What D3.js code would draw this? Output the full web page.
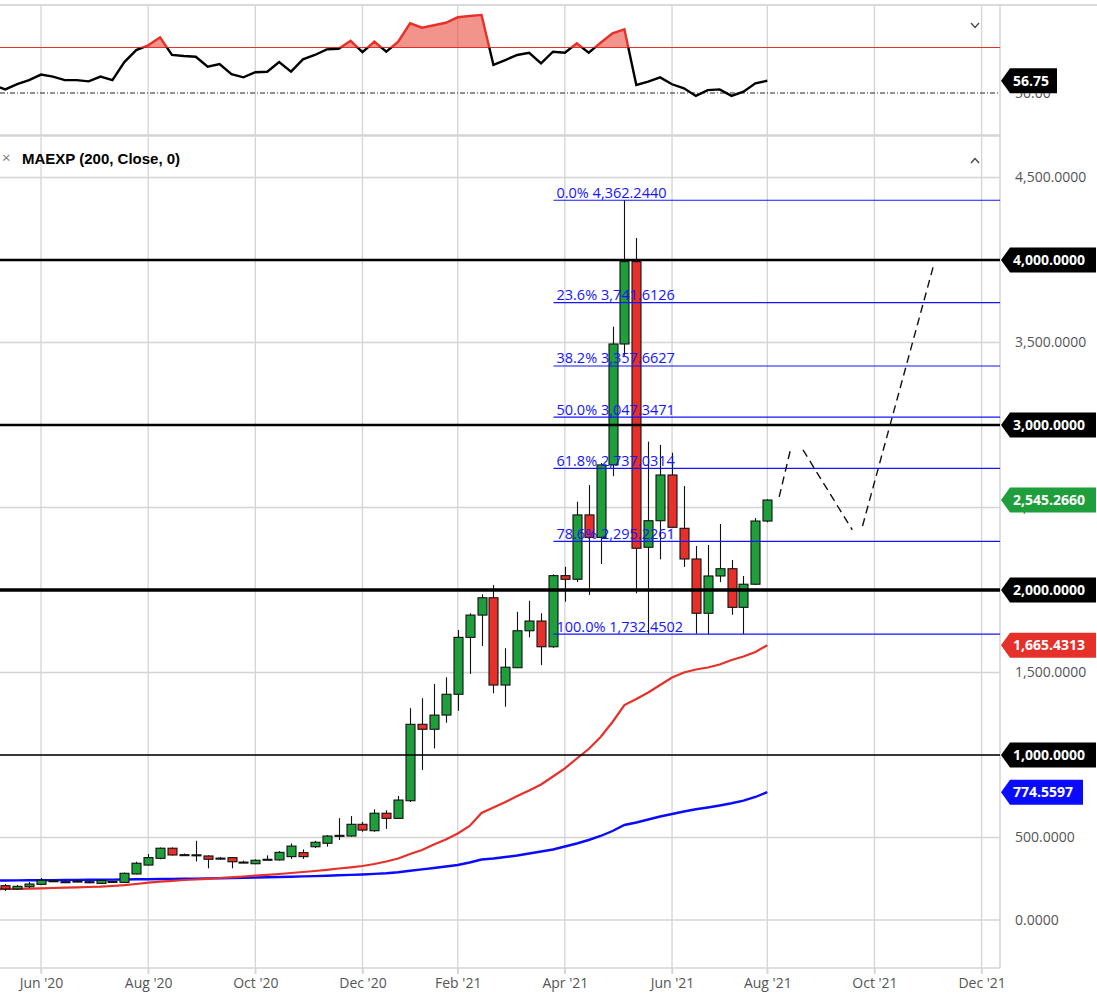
<!DOCTYPE html>
<html>
<head>
<meta charset="utf-8">
<script src="https://cdn.jsdelivr.net/npm/d3@7"></script>
<style>
  body { margin: 0; background: #fff; }
  svg { display: block; font-family: "Open Sans", sans-serif; }
</style>
</head>
<body>
<svg id="chart" width="1097" height="1005"></svg>
<script>

/* DATA */
// weekly candles, first bar week of 11 May 2020
const firstWeek = "2020-05-11";
const opens  = [208,188,202,216,235,232,233,232,222,234,228,279,333,374,435,392,395,388,372,378,349,341,366,364,384,408,444,465,509,509,580,541,647,616,723,1186,1156,1242,1368,1713,1848,1953,1424,1529,1753,1812,1656,2087,2065,2455,2319,2758,3491,3990,2259,2420,2697,2374,2188,1859,2085,2129,1895,2035,2418];
const highs  = [218,212,230,255,245,238,244,237,246,238,288,353,400,440,440,403,480,392,382,382,360,368,392,418,464,428,480,515,617,630,594,671,665,752,1284,1344,1430,1471,1758,1859,1974,2030,1647,1868,1935,1859,2095,2141,2535,2636,2770,3596,4362.244,4133,2899,2879,2832,2630,2267,2273,2400,2182,2085,2436,2550];
const lows   = [176,182,194,212,230,224,230,222,219,228,225,276,330,368,390,388,355,313,366,313,345,338,364,360,370,370,436,444,485,505,535,535,552,612,715,909,1040,1196,1268,1491,1661,1374,1293,1529,1713,1545,1650,1929,2048,1970,2158,2690,3420,1980,1735,2186,2380,2140,1735,1733,2048,1850,1732.45,2030,2410];
const closes = [188,204,218,241,238,229,236,228,240,232,283,344,378,435,394,396,393,368,375,353,351,362,368,410,448,384,471,509,513,580,545,647,616,727,1186,1156,1242,1368,1713,1848,1953,1424,1532,1753,1812,1656,2087,2065,2455,2319,2758,3491,3990,2253,2420,2697,2380,2188,1859,2085,2129,1895,2035,2418,2545.266];

// indicator lines begin one week earlier (left edge of the chart)
const lineStart = "2020-05-04";
const emaFast = [187.0,187.9,189.1,190.3,192.1,193.9,195.8,198.2,200.0,201.8,206.1,210.9,218.2,226.1,232.1,237.6,242.4,245.5,249.7,254.5,258.8,263.6,268.5,273.3,278.8,284.8,290.9,297.0,304.2,312.1,319.4,327.3,339.4,354.5,372.7,400.0,424.2,457.6,487.9,524.2,569.7,648.5,681.8,715.2,751.5,784.8,821.2,869.7,919.4,978.8,1036.4,1109.1,1200.0,1303.0,1339.4,1378.8,1424.2,1469.7,1500.0,1518.2,1530.3,1548.5,1575.8,1597.0,1624.2,1665.4313];
const emaSlow = [238.8,239.4,240.0,240.6,241.2,241.8,242.4,243.0,243.6,244.2,244.8,245.5,246.7,247.3,248.5,249.1,250.3,250.9,252.1,253.3,254.5,255.8,257.6,258.8,260.6,262.4,264.2,266.1,268.5,270.9,273.3,275.8,279.4,283.6,289.7,298.2,306.7,315.2,324.2,333.3,348.5,366.7,372.7,381.8,390.9,403.0,415.2,427.3,445.5,463.6,484.8,509.1,539.4,575.8,590.9,609.1,627.3,642.4,657.6,670.9,681.8,693.9,707.3,723.0,745.5,774.5597];
const oscValues = [54.4,52.0,54.9,57.1,60.1,59.0,57.1,57.1,56.4,59.0,57.1,67.0,73.6,76.2,80.6,70.9,70.3,69.9,64.5,65.9,60.4,58.6,61.4,61.7,67.0,61.7,68.5,70.9,74.0,74.3,78.7,72.4,78.2,72.7,78.2,88.3,85.9,87.2,88.6,91.6,92.3,92.9,65.4,68.1,70.9,72.1,66.3,72.7,72.1,77.3,72.1,77.6,82.8,85.0,54.4,56.2,58.6,54.8,52.6,48.4,51.6,52.0,48.4,50.7,55.3,56.75];
const oscUpper = 75;
const oscMid = 50;

const fibPcts = ["0.0%","23.6%","38.2%","50.0%","61.8%","78.6%","100.0%"];
const fibValues = [4362.2440,3741.6126,3357.6627,3047.3471,2737.0314,2295.2261,1732.4502];
const fibStart = "2021-03-29";

const levelValues = [4000,3000,2000,1000];
const priceTicks = [0,500,1000,1500,2000,2500,3000,3500,4000,4500];
const tickDates = ["2020-06-01","2020-08-03","2020-10-05","2020-12-07","2021-02-01","2021-04-05","2021-06-07","2021-08-02","2021-10-04","2021-12-06"];

// hand drawn projection, three dashed strokes
const projection = [
  [["2021-08-09",2564],["2021-08-16",2867]],
  [["2021-08-23",2849],["2021-09-21",2364]],
  [["2021-09-27",2388],["2021-11-08",3976]]
];

/* SETUP */
const parse = d3.timeParse("%Y-%m-%d");
const fmtNum = d3.format(",.4f");
const dates = d3.timeMonday.range(parse(firstWeek), d3.timeDay.offset(parse(firstWeek), 7 * opens.length));
const lineDates = d3.timeMonday.range(parse(lineStart), d3.timeDay.offset(parse(lineStart), 7 * oscValues.length));
const candles = dates.map((d, i) => ({date: d, o: opens[i], h: highs[i], l: lows[i], c: closes[i]}));

const plotRight = 1000;
const green = "#1f9e3c", red = "#e6302a", blue = "#0a0aff";

const x = d3.scaleTime()
  .domain([parse("2020-06-01"), parse("2021-12-06")])
  .range([41, 41 + 553 * 1.7009]);

const y = d3.scaleLinear().domain([0, 4000]).range([920, 260]);
const yOsc = d3.scaleLinear().domain([oscMid, oscUpper]).range([93, 47.5]);

const svg = d3.select("#chart");

/* CLIPS */
const defs = svg.append("defs");
defs.append("clipPath").attr("id", "clip-main")
  .append("rect").attr("x", 0).attr("y", 137).attr("width", plotRight).attr("height", 831);
defs.append("clipPath").attr("id", "clip-osc-hi")
  .append("rect").attr("x", 0).attr("y", 5).attr("width", plotRight).attr("height", yOsc(oscUpper) - 5);
defs.append("clipPath").attr("id", "clip-osc-lo")
  .append("rect").attr("x", 0).attr("y", yOsc(oscUpper)).attr("width", plotRight).attr("height", 135 - yOsc(oscUpper));

/* FRAME + GRID */
const grid = svg.append("g").attr("stroke", "#d4d4d4").attr("stroke-width", 1.3);

grid.selectAll("line.vgrid-osc")
  .data(tickDates)
  .join("line")
  .attr("x1", d => x(parse(d))).attr("x2", d => x(parse(d)))
  .attr("y1", 5).attr("y2", 135);

grid.selectAll("line.vgrid")
  .data(tickDates)
  .join("line")
  .attr("x1", d => x(parse(d))).attr("x2", d => x(parse(d)))
  .attr("y1", 137).attr("y2", 974);

grid.selectAll("line.hgrid")
  .data(priceTicks)
  .join("line")
  .attr("x1", 0).attr("x2", plotRight)
  .attr("y1", d => y(d)).attr("y2", d => y(d));

svg.append("line").attr("x1", 0).attr("x2", 1097).attr("y1", 5).attr("y2", 5)
  .attr("stroke", "#dadada").attr("stroke-width", 2);
svg.append("line").attr("x1", 0).attr("x2", plotRight).attr("y1", 135.5).attr("y2", 135.5)
  .attr("stroke", "#d4d4d4").attr("stroke-width", 2.5);
svg.append("line").attr("x1", plotRight).attr("x2", plotRight).attr("y1", 5).attr("y2", 968)
  .attr("stroke", "#d4d4d4").attr("stroke-width", 1.5);
svg.append("line").attr("x1", 0).attr("x2", plotRight).attr("y1", 968).attr("y2", 968)
  .attr("stroke", "#d4d4d4").attr("stroke-width", 1.5);

/* OSCILLATOR PANEL */
const osc = svg.append("g");

osc.append("line")
  .attr("x1", 0).attr("x2", plotRight)
  .attr("y1", yOsc(oscUpper)).attr("y2", yOsc(oscUpper))
  .attr("stroke", red).attr("stroke-width", 1.2);

osc.append("line")
  .attr("x1", 0).attr("x2", plotRight)
  .attr("y1", yOsc(oscMid)).attr("y2", yOsc(oscMid))
  .attr("stroke", "#222").attr("stroke-width", 1)
  .attr("stroke-dasharray", "5,2,1,2");

const oscLine = d3.line()
  .x((d, i) => x(lineDates[i]))
  .y(d => yOsc(d));

const oscArea = d3.area()
  .x((d, i) => x(lineDates[i]))
  .y0(yOsc(oscUpper))
  .y1(d => yOsc(d));

osc.append("path")
  .datum(oscValues)
  .attr("d", oscArea)
  .attr("fill", "rgba(232,60,45,0.55)")
  .attr("clip-path", "url(#clip-osc-hi)");

osc.append("path")
  .datum(oscValues)
  .attr("d", oscLine)
  .attr("fill", "none").attr("stroke", "#000").attr("stroke-width", 2.4)
  .attr("clip-path", "url(#clip-osc-lo)");

osc.append("path")
  .datum(oscValues)
  .attr("d", oscLine)
  .attr("fill", "none").attr("stroke", red).attr("stroke-width", 2.4)
  .attr("clip-path", "url(#clip-osc-hi)");

// chevron
osc.append("path")
  .attr("d", "M971,23 L975,27.5 L979,23")
  .attr("fill", "none").attr("stroke", "#444").attr("stroke-width", 1.3);

/* MAIN PANEL */
const main = svg.append("g").attr("clip-path", "url(#clip-main)");

const emaLine = d3.line()
  .x((d, i) => x(lineDates[i]))
  .y(d => y(d));

main.append("path").datum(emaSlow).attr("d", emaLine)
  .attr("fill", "none").attr("stroke", blue).attr("stroke-width", 2.4);

main.append("path").datum(emaFast).attr("d", emaLine)
  .attr("fill", "none").attr("stroke", red).attr("stroke-width", 2.2);

// CANDLES
const bodyW = 9;
const candleG = main.selectAll("g.candle")
  .data(candles)
  .join("g")
  .attr("class", "candle");

candleG.append("line")
  .attr("x1", d => Math.round(x(d.date)) + 0.5)
  .attr("x2", d => Math.round(x(d.date)) + 0.5)
  .attr("y1", d => y(d.h))
  .attr("y2", d => y(d.l))
  .attr("stroke", "#111").attr("stroke-width", 1.1);

candleG.append("rect")
  .attr("x", d => Math.round(x(d.date)) + 0.5 - bodyW / 2)
  .attr("y", d => y(Math.max(d.o, d.c)))
  .attr("width", bodyW)
  .attr("height", d => Math.max(1, Math.abs(y(d.o) - y(d.c))))
  .attr("fill", d => d.c >= d.o ? green : red)
  .attr("stroke", "#111").attr("stroke-width", 1.1);

// BLACK LEVELS
const levelWidth = {4000: 2.4, 3000: 2.4, 2000: 3.4, 1000: 1.5};
main.selectAll("line.level")
  .data(levelValues)
  .join("line")
  .attr("class", "level")
  .attr("x1", 0).attr("x2", plotRight)
  .attr("y1", d => y(d)).attr("y2", d => y(d))
  .attr("stroke", "#000")
  .attr("stroke-width", d => levelWidth[d]);

// FIBONACCI
const fibX = x(parse(fibStart)) + 0.5;
main.selectAll("line.fib")
  .data(fibValues)
  .join("line")
  .attr("class", "fib")
  .attr("x1", fibX).attr("x2", plotRight)
  .attr("y1", d => y(d)).attr("y2", d => y(d))
  .attr("stroke", "#1515ff").attr("stroke-width", 1.2);

main.selectAll("text.fib-label")
  .data(fibValues)
  .join("text")
  .attr("class", "fib-label")
  .attr("x", fibX + 3)
  .attr("y", d => y(d) - 2.5)
  .attr("fill", "#1515ff")
  .style("font-size", "14.5px")
  .text((d, i) => `${fibPcts[i]} ${fmtNum(d)}`);

// PROJECTION
main.selectAll("path.proj")
  .data(projection)
  .join("path")
  .attr("class", "proj")
  .attr("d", d3.line().x(d => x(parse(d[0]))).y(d => y(d[1])))
  .attr("fill", "none").attr("stroke", "#111").attr("stroke-width", 1.4)
  .attr("stroke-dasharray", "8,5");

// HEADER
svg.append("text")
  .attr("x", 2).attr("y", 163)
  .attr("fill", "#777")
  .style("font-size", "15px")
  .text("×");
svg.append("text")
  .attr("x", 22).attr("y", 163.5)
  .attr("fill", "#000")
  .style("font-family", "'Liberation Sans', Arial, sans-serif")
  .style("font-weight", "bold")
  .style("font-size", "15px")
  .text("MAEXP (200, Close, 0)");
svg.append("path")
  .attr("d", "M971,163 L975,158.5 L979,163")
  .attr("fill", "none").attr("stroke", "#444").attr("stroke-width", 1.3);

/* AXES */
const xAxis = svg.append("g")
  .attr("transform", `translate(0, 968)`)
  .call(d3.axisBottom(x)
    .tickValues(tickDates.map(parse))
    .tickFormat(d3.timeFormat("%b '%y"))
    .tickSize(6)
    .tickPadding(4));
xAxis.select(".domain").remove();
xAxis.selectAll("line").attr("stroke", "#d4d4d4").attr("stroke-width", 1.3);
xAxis.selectAll("text")
  .attr("fill", "#555")
  .style("font-family", "'Open Sans', sans-serif")
  .style("font-size", "14px");

const yAxis = svg.append("g")
  .attr("transform", `translate(${plotRight}, 0)`)
  .call(d3.axisRight(y)
    .tickValues(priceTicks)
    .tickFormat(fmtNum)
    .tickSize(0)
    .tickPadding(15));
yAxis.select(".domain").remove();
yAxis.selectAll("text")
  .attr("fill", "#555")
  .style("font-family", "'Open Sans', sans-serif")
  .style("font-size", "14px");

svg.append("text")
  .attr("x", 1015).attr("y", yOsc(oscMid))
  .attr("dy", "0.35em")
  .attr("fill", "#555")
  .style("font-size", "14px")
  .text(d3.format(".2f")(oscMid));

/* VALUE TAGS */
const lastClose = closes[closes.length - 1];
const lastFast = emaFast[emaFast.length - 1];
const lastSlow = emaSlow[emaSlow.length - 1];
const tags = [
  {v: 4000, color: "#000", w: 95},
  {v: 3000, color: "#000", w: 95},
  {v: lastClose, color: green, w: 95},
  {v: 2000, color: "#000", w: 95},
  {v: lastFast, color: red, w: 95},
  {v: 1000, color: "#000", w: 95},
  {v: lastSlow, color: blue, w: 82}
];

function tagPath(cy, w) {
  const h = 12.5;
  return `M1001,${cy} L1010,${cy - h} L${1001 + w},${cy - h} L${1001 + w},${cy + h} L1010,${cy + h} Z`;
}

const tagG = svg.selectAll("g.tag")
  .data(tags)
  .join("g")
  .attr("class", "tag");

tagG.append("path")
  .attr("d", d => tagPath(y(d.v), d.w))
  .attr("fill", d => d.color);

tagG.append("text")
  .attr("x", 1013)
  .attr("y", d => y(d.v))
  .attr("dy", "0.35em")
  .attr("fill", "#fff")
  .style("font-weight", "bold")
  .style("font-size", "14px")
  .text(d => fmtNum(d.v));

const lastOsc = oscValues[oscValues.length - 1];
svg.append("path")
  .attr("d", tagPath(yOsc(lastOsc), 56))
  .attr("fill", "#000");
svg.append("text")
  .attr("x", 1013).attr("y", yOsc(lastOsc))
  .attr("dy", "0.35em")
  .attr("fill", "#fff")
  .style("font-weight", "bold")
  .style("font-size", "14px")
  .text(d3.format(".2f")(lastOsc));

</script>
</body>
</html>
